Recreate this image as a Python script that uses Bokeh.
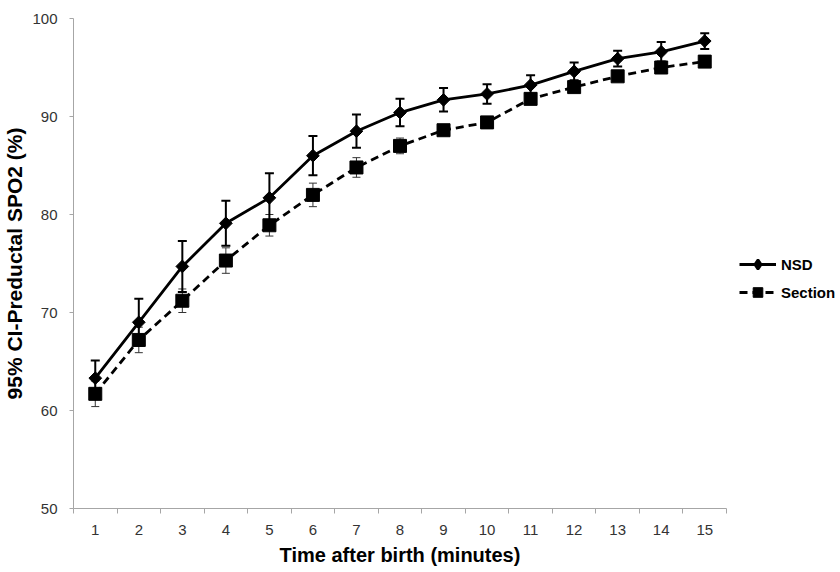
import numpy as np
from bokeh.plotting import figure
from bokeh.models import (ColumnDataSource, Range1d, FixedTicker, Whisker, TeeHead,
                          Legend, LegendItem)
from bokeh.embed import file_html
from bokeh.resources import INLINE

# ---- data ----
minutes = list(range(1, 16))
nsd = [63.3, 69.0, 74.7, 79.1, 81.7, 86.0, 88.5, 90.4, 91.7, 92.3, 93.2, 94.6, 95.9, 96.6, 97.7]
nsd_err = [1.8, 2.4, 2.6, 2.3, 2.5, 2.0, 1.7, 1.4, 1.2, 1.0, 1.0, 0.9, 0.8, 1.0, 0.8]
section = [61.7, 67.2, 71.2, 75.3, 78.9, 82.0, 84.8, 87.0, 88.6, 89.4, 91.8, 93.0, 94.1, 95.0, 95.6]
section_err = [1.3, 1.3, 1.2, 1.3, 1.1, 1.2, 1.0, 0.8, 0.5, 0.5, 0.5, 0.5, 0.5, 0.5, 0.5]
y_ticks = [50, 60, 70, 80, 90, 100]
x_label = "Time after birth (minutes)"
y_label = "95% CI-Preductal SPO2 (%)"
series_names = ["NSD", "Section"]

FONT = "Liberation Sans"

src_n = ColumnDataSource(dict(x=minutes, y=nsd,
                              upper=[v + e for v, e in zip(nsd, nsd_err)],
                              lower=[v - e for v, e in zip(nsd, nsd_err)]))
src_s = ColumnDataSource(dict(x=minutes, y=section,
                              upper=[v + e for v, e in zip(section, section_err)],
                              lower=[v - e for v, e in zip(section, section_err)]))

p = figure(frame_width=653, frame_height=490, output_backend="svg", toolbar_location=None,
           x_range=Range1d(0.5, 15.5), y_range=Range1d(50, 100),
           min_border_left=70, min_border_right=108, min_border_top=18, min_border_bottom=50,
           background_fill_color="white", border_fill_color="white")
p.outline_line_color = None
p.grid.visible = False

# x axis: labels at category centres, tick marks between categories
xa = p.xaxis[0]
xa.ticker = FixedTicker(ticks=minutes, minor_ticks=[m - 0.5 for m in minutes] + [minutes[-1] + 0.5])
xa.major_tick_out = 0
xa.major_tick_in = 0
xa.minor_tick_out = 5
xa.minor_tick_in = 0
xa.minor_tick_line_color = "#a6a6a6"
xa.axis_line_color = "#a6a6a6"
xa.major_label_standoff = 11
xa.major_label_text_font = FONT
xa.major_label_text_font_size = "15px"
xa.major_label_text_color = "#333333"
xa.axis_label = x_label
xa.axis_label_text_font = FONT
xa.axis_label_text_font_size = "20px"
xa.axis_label_text_font_style = "bold"
xa.axis_label_text_color = "black"
xa.axis_label_standoff = 6

ya = p.yaxis[0]
ya.ticker = FixedTicker(ticks=y_ticks)
ya.major_tick_out = 4
ya.major_tick_in = 0
ya.minor_tick_out = 0
ya.minor_tick_in = 0
ya.major_tick_line_color = "#a6a6a6"
ya.axis_line_color = "#a6a6a6"
ya.major_label_standoff = 12
ya.major_label_text_font = FONT
ya.major_label_text_font_size = "15px"
ya.major_label_text_color = "#333333"
ya.axis_label = y_label
ya.axis_label_text_font = FONT
ya.axis_label_text_font_size = "21px"
ya.axis_label_text_font_style = "bold"
ya.axis_label_text_color = "black"
ya.axis_label_standoff = 3

# error bars
p.add_layout(Whisker(source=src_s, base="x", upper="upper", lower="lower",
                     line_color="#333333", line_width=1,
                     upper_head=TeeHead(size=8, line_color="#333333", line_width=1),
                     lower_head=TeeHead(size=8, line_color="#333333", line_width=1)))
p.add_layout(Whisker(source=src_n, base="x", upper="upper", lower="lower",
                     line_color="black", line_width=2,
                     upper_head=TeeHead(size=9, line_color="black", line_width=2),
                     lower_head=TeeHead(size=9, line_color="black", line_width=2)))

# series
l_s = p.line("x", "y", source=src_s, line_color="black", line_width=2.8, line_dash="8 5")
m_s = p.scatter("x", "y", source=src_s, marker="square", size=13, fill_color="black", line_color="black")
l_n = p.line("x", "y", source=src_n, line_color="black", line_width=2.8)
m_n = p.scatter("x", "y", source=src_n, marker="square", angle=np.pi / 4, size=9,
                fill_color="black", line_color="black")
# diamond glyph for the legend key (legend keys ignore marker angle); zero size in the plot
k_n = p.scatter("x", "y", source=src_n, marker="diamond", size=0,
                fill_color="black", line_color="black", line_width=2.5)

legend = Legend(items=[LegendItem(label=series_names[0], renderers=[l_n, k_n]),
                       LegendItem(label=series_names[1], renderers=[l_s, m_s])],
                location=(13, 204), orientation="vertical",
                glyph_width=37, glyph_height=24, spacing=4, padding=0, margin=0,
                label_standoff=5, label_text_font=FONT, label_text_font_size="15px",
                label_text_font_style="bold", label_text_color="black",
                border_line_color=None, background_fill_alpha=0)
p.add_layout(legend, "right")

open("out.html", "w").write(file_html(p, INLINE))
